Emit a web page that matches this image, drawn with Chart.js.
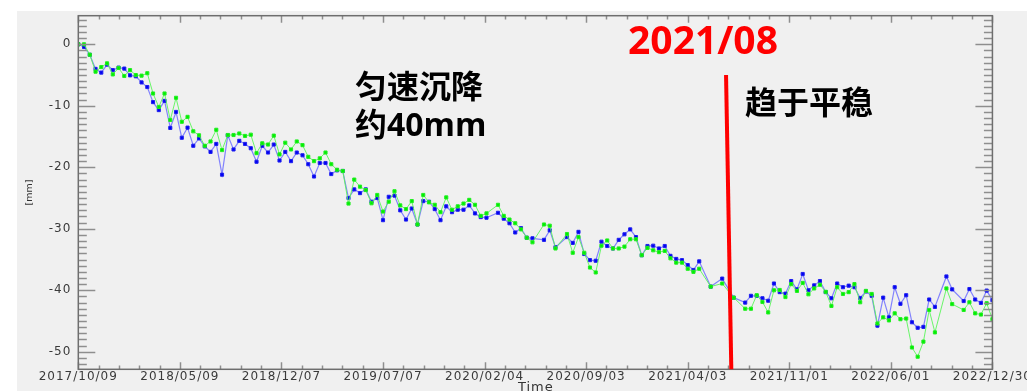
<!DOCTYPE html>
<html>
<head>
<meta charset="utf-8">
<script src="https://cdn.jsdelivr.net/npm/chart.js@4.4.1/dist/chart.umd.min.js"></script>
<style>
  html, body { margin: 0; padding: 0; background: #ffffff; }
  canvas { display: block; }
</style>
</head>
<body>
<canvas id="c" width="1027" height="391"></canvas>
<script>
// Acquisition epochs, in days after 2017/10/09 (12-day revisit, some passes missing)
const acqDays = [
  0, 12, 24, 36, 48, 60, 72, 84, 96, 108,
  120, 132, 144, 156, 168, 180, 192, 204, 216, 228,
  240, 252, 264, 276, 288, 300, 312, 324, 336, 348,
  360, 372, 384, 396, 408, 420, 432, 444, 456, 468,
  480, 492, 504, 516, 528, 540, 552, 564, 576, 588,
  600, 612, 624, 636, 648, 660, 672, 684, 696, 708,
  720, 732, 744, 756, 768, 780, 792, 804, 816, 828,
  840, 852,
  876, 888, 900, 912, 924, 936, 948,
  972, 984, 996,
  1020, 1032, 1044, 1056, 1068, 1080, 1092, 1104, 1116, 1128, 1140, 1152,
  1164, 1176, 1188, 1200, 1212, 1224, 1236, 1248, 1260, 1272, 1284, 1296,
  1320, 1344, 1368,
  1392, 1404, 1416, 1428, 1440, 1452, 1464, 1476, 1488, 1500, 1512, 1524,
  1536, 1548, 1560, 1572, 1584, 1596, 1608, 1620, 1632, 1644, 1656, 1668,
  1680, 1692, 1704, 1716, 1728, 1740, 1752, 1764, 1776, 1788,
  1812, 1824,
  1848, 1860, 1872, 1884, 1896, 1908
];

// Cumulative deformation, point A (blue), mm
const seriesBlue = [
  0, -0.44, -1.7, -4.0, -4.6, -3.3, -4.2, -3.8, -3.95, -5.05,
  -5.2, -6.2, -6.95, -9.4, -10.7, -9.2, -13.6, -11.0, -15.2, -13.55,
  -16.5, -15.3, -16.6, -17.5, -16.2, -21.2, -14.8, -17.1, -15.7, -16.2,
  -16.9, -19.1, -16.5, -17.6, -16.3, -18.9, -17.5, -19.0, -17.6, -18.05,
  -19.5, -21.5, -19.3, -19.3, -21.1, -20.5, -20.6, -25.0, -23.6, -24.2,
  -23.6, -25.6, -25.0, -28.6, -24.8, -24.6, -27.0, -28.5, -26.7, -29.3,
  -25.5, -25.6, -26.8, -28.6, -26.35, -27.3, -26.9, -26.9, -26.2, -27.5,
  -28.1, -28.2,
  -27.4, -28.35, -29.1, -30.6, -29.9, -31.45, -31.55,
  -31.8, -30.25, -33.0,
  -31.35, -32.3, -30.5, -34.1, -35.1, -35.2, -32.1, -32.8, -33.2, -31.8, -30.9, -30.1,
  -31.35, -34.3, -32.8, -32.75, -33.2, -32.8, -34.4, -34.9, -35.1, -35.9, -36.7, -35.3,
  -39.4, -38.1, -41.2,
  -42.0, -40.9, -40.9, -41.3, -41.7, -38.9, -40.3, -40.55, -38.5, -39.85, -37.35, -40.0,
  -39.2, -38.5, -40.3, -41.3, -38.9, -39.5, -39.25, -39.5, -41.25, -40.2, -40.9, -45.75,
  -41.2, -44.4, -39.5, -42.2, -40.8, -45.2, -46.1, -45.95, -41.5, -42.7,
  -37.75, -39.85,
  -41.75, -39.8, -41.5, -42.05, -40.05, -41.6
];

// Cumulative deformation, point B (green), mm
const seriesGreen = [
  0, 0, -1.7, -4.45, -3.7, -3.1, -4.9, -3.85, -5.15, -4.2,
  -5.0, -5.1, -4.7, -8.0, -10.2, -8.0, -12.3, -8.7, -12.6, -11.8,
  -14.15, -14.8, -16.5, -15.8, -13.9, -17.2, -14.75, -14.75, -14.5, -14.9,
  -14.7, -17.7, -16.1, -16.3, -14.85, -17.9, -16.0, -17.1, -15.8, -16.4,
  -18.3, -19.0, -18.55, -17.6, -19.5, -20.4, -20.6, -25.9, -22.0, -23.15,
  -23.7, -25.85, -24.5, -27.2, -25.6, -23.9, -26.2, -26.8, -25.5, -29.3,
  -24.5, -25.7, -26.1, -27.3, -24.9, -26.9, -26.35, -25.9, -25.3, -26.1,
  -27.9, -27.5,
  -26.1, -27.9, -28.5, -29.1, -30.1, -31.45, -32.2,
  -29.3, -29.5, -33.2,
  -30.85, -33.9, -31.35, -33.9, -36.3, -37.1, -32.75, -31.9, -33.2, -33.2, -32.9, -31.7,
  -31.7, -34.3, -33.1, -33.5, -33.8, -33.6, -34.8, -35.5, -35.5, -36.5, -37.0, -36.5,
  -39.4, -38.9, -41.2,
  -43.0, -43.0, -40.8, -41.9, -43.6, -40.0, -39.95, -41.1, -39.0, -40.1, -38.8, -40.65,
  -39.7, -39.1, -40.25, -42.55, -39.5, -40.6, -40.3, -39.0, -41.95, -40.1, -40.6, -45.4,
  -44.4, -44.9, -43.75, -44.7, -44.6, -49.3, -50.8, -48.35, -43.2, -46.85,
  -39.7, -42.25,
  -43.2, -41.95, -43.75, -43.95, -42.1, -44.7
];

const xTickLabels = ['2017/10/09', '2018/05/09', '2018/12/07', '2019/07/07', '2020/02/04',
                     '2020/09/03', '2021/04/03', '2021/11/01', '2022/06/01', '2022/12/30'];
const yTickValues = [0, -10, -20, -30, -40, -50];

// Trend break drawn as a marker line (days after 2017/10/09, mm)
const breakDays = [1352, 1363];
const breakMm = [-5.0, -52.85];

const breakLabel = '2021/08';
const phaseLabels = ['匀速沉降', '约40mm', '趋于平稳'];

const ORIGIN = Date.UTC(2017, 9, 9);
function dayOf(label) {
  const [y, m, d] = label.split('/').map(Number);
  return Math.round((Date.UTC(y, m - 1, d) - ORIGIN) / 86400000);
}
const xTickDays = xTickLabels.map(dayOf);
const X_MIN = xTickDays[0];
const X_MAX = xTickDays[xTickDays.length - 1];
const Y_MIN = -52.85, Y_MAX = 4.65;

const toPoints = vals => acqDays.map((d, i) => ({ x: d, y: vals[i] }));

// Grey panel behind the plot; axis text uses a slightly tracked font
const panelPlugin = {
  id: 'panel',
  beforeDraw(chart) {
    const ctx = chart.ctx;
    ctx.save();
    ctx.fillStyle = '#ffffff';
    ctx.fillRect(0, 0, chart.width, chart.height);
    ctx.fillStyle = '#f0f0f0';
    ctx.fillRect(17, 11, chart.width - 17, chart.height - 11);
    ctx.restore();
    ctx.letterSpacing = '1px';
  }
};

// Box frame with inward major/minor ticks on all four sides
const framePlugin = {
  id: 'frame',
  afterDatasetsDraw(chart) {
    const { ctx, chartArea: a, scales: { x, y } } = chart;
    ctx.save();
    ctx.lineWidth = 1.5;
    ctx.strokeStyle = '#8e8e8e';
    ctx.beginPath();
    // y ticks: minor every 1 mm, major every 10 mm
    for (let v = Math.ceil(Y_MIN); v <= Math.floor(Y_MAX); v++) {
      const py = Math.round(y.getPixelForValue(v)) + 0.5;
      const len = (v % 10 === 0) ? 17 : 8.5;
      ctx.moveTo(a.left, py); ctx.lineTo(a.left + len, py);
      ctx.moveTo(a.right, py); ctx.lineTo(a.right - len, py);
    }
    // x ticks: major at labelled dates, four minor between
    for (let i = 0; i < xTickDays.length; i++) {
      for (let j = 0; j < 5; j++) {
        if (i === xTickDays.length - 1 && j > 0) break;
        const v = xTickDays[i] + (i < xTickDays.length - 1 ? (xTickDays[i + 1] - xTickDays[i]) * j / 5 : 0);
        const px = Math.round(x.getPixelForValue(v)) + 0.5;
        const len = j === 0 ? 7 : 3.7;
        ctx.moveTo(px, a.bottom); ctx.lineTo(px, a.bottom - len);
        ctx.moveTo(px, a.top); ctx.lineTo(px, a.top + len);
      }
    }
    ctx.stroke();
    ctx.strokeStyle = '#6e6e6e';
    ctx.strokeRect(a.left, a.top, a.right - a.left, a.bottom - a.top);

    // axis titles
    ctx.fillStyle = '#333333';
    ctx.font = '13px "DejaVu Sans"';
    ctx.textAlign = 'center';
    ctx.textBaseline = 'top';
    ctx.fillText('Time', (a.left + a.right) / 2 + 0.5, 381);
    ctx.save();
    ctx.letterSpacing = '0px';
    ctx.translate(30, (a.top + a.bottom) / 2);
    ctx.rotate(-Math.PI / 2);
    ctx.font = '9.5px "DejaVu Sans"';
    ctx.textBaseline = 'middle';
    ctx.fillText('[mm]', 0, 0);
    ctx.restore();
    ctx.restore();
  }
};

// Break line and the phase notes
const notePlugin = {
  id: 'notes',
  afterDraw(chart) {
    const { ctx, scales: { x, y } } = chart;
    ctx.save();
    ctx.letterSpacing = '0px';
    ctx.strokeStyle = '#ff0000';
    ctx.lineWidth = 4;
    ctx.beginPath();
    ctx.moveTo(x.getPixelForValue(breakDays[0]), y.getPixelForValue(breakMm[0]));
    ctx.lineTo(x.getPixelForValue(breakDays[1]), y.getPixelForValue(breakMm[1]));
    ctx.stroke();

    ctx.fillStyle = '#ff0000';
    ctx.font = 'bold 39px "Open Sans", "Noto Sans CJK SC"';
    ctx.textAlign = 'center';
    ctx.textBaseline = 'alphabetic';
    ctx.fillText(breakLabel, 703, 54);

    ctx.fillStyle = '#000000';
    ctx.textAlign = 'left';
    ctx.textBaseline = 'middle';
    ctx.font = 'bold 32px "Open Sans", "Noto Sans CJK SC"';
    ctx.fillText(phaseLabels[0], 355, 89);
    ctx.fillText(phaseLabels[1], 355, 127);
    ctx.fillText(phaseLabels[2], 745, 105);
    ctx.restore();
  }
};

new Chart(document.getElementById('c').getContext('2d'), {
  type: 'line',
  data: {
    datasets: [
      {
        label: 'B',
        data: toPoints(seriesGreen),
        borderColor: 'rgba(90, 245, 90, 0.9)',
        borderWidth: 1,
        pointStyle: 'rect',
        pointRadius: 2.2,
        pointBorderWidth: 1,
        pointBackgroundColor: '#00ee00',
        pointBorderColor: '#22ee22',
        tension: 0,
        order: 0
      },
      {
        label: 'A',
        data: toPoints(seriesBlue),
        borderColor: 'rgba(110, 110, 255, 0.85)',
        borderWidth: 1.2,
        pointStyle: 'rect',
        pointRadius: 2.2,
        pointBorderWidth: 1,
        pointBackgroundColor: '#0000f0',
        pointBorderColor: '#2020f0',
        tension: 0,
        order: 1
      }
    ]
  },
  options: {
    responsive: false,
    animation: false,
    devicePixelRatio: 1,
    layout: { padding: { top: 15.7, right: 33, left: 0, bottom: 0 } },
    plugins: { legend: { display: false }, tooltip: { enabled: false } },
    scales: {
      x: {
        type: 'linear',
        min: X_MIN,
        max: X_MAX,
        afterBuildTicks: s => { s.ticks = xTickDays.map(v => ({ value: v })); },
        afterFit: s => { s.height = 21.7; },
        ticks: {
          autoSkip: false,
          maxRotation: 0,
          padding: 0,
          color: '#3a3a3a',
          font: { family: 'DejaVu Sans', size: 12 },
          callback: (v, i) => xTickLabels[i]
        },
        grid: { display: false, drawTicks: false },
        border: { display: false }
      },
      y: {
        min: Y_MIN,
        max: Y_MAX,
        afterBuildTicks: s => { s.ticks = yTickValues.map(v => ({ value: v })); },
        afterFit: s => { s.width = 78.3; },
        ticks: {
          padding: 7,
          color: '#3a3a3a',
          font: { family: 'DejaVu Sans', size: 12 },
          callback: v => String(v)
        },
        grid: { display: false, drawTicks: false },
        border: { display: false }
      }
    }
  },
  plugins: [panelPlugin, framePlugin, notePlugin]
});
</script>
</body>
</html>
